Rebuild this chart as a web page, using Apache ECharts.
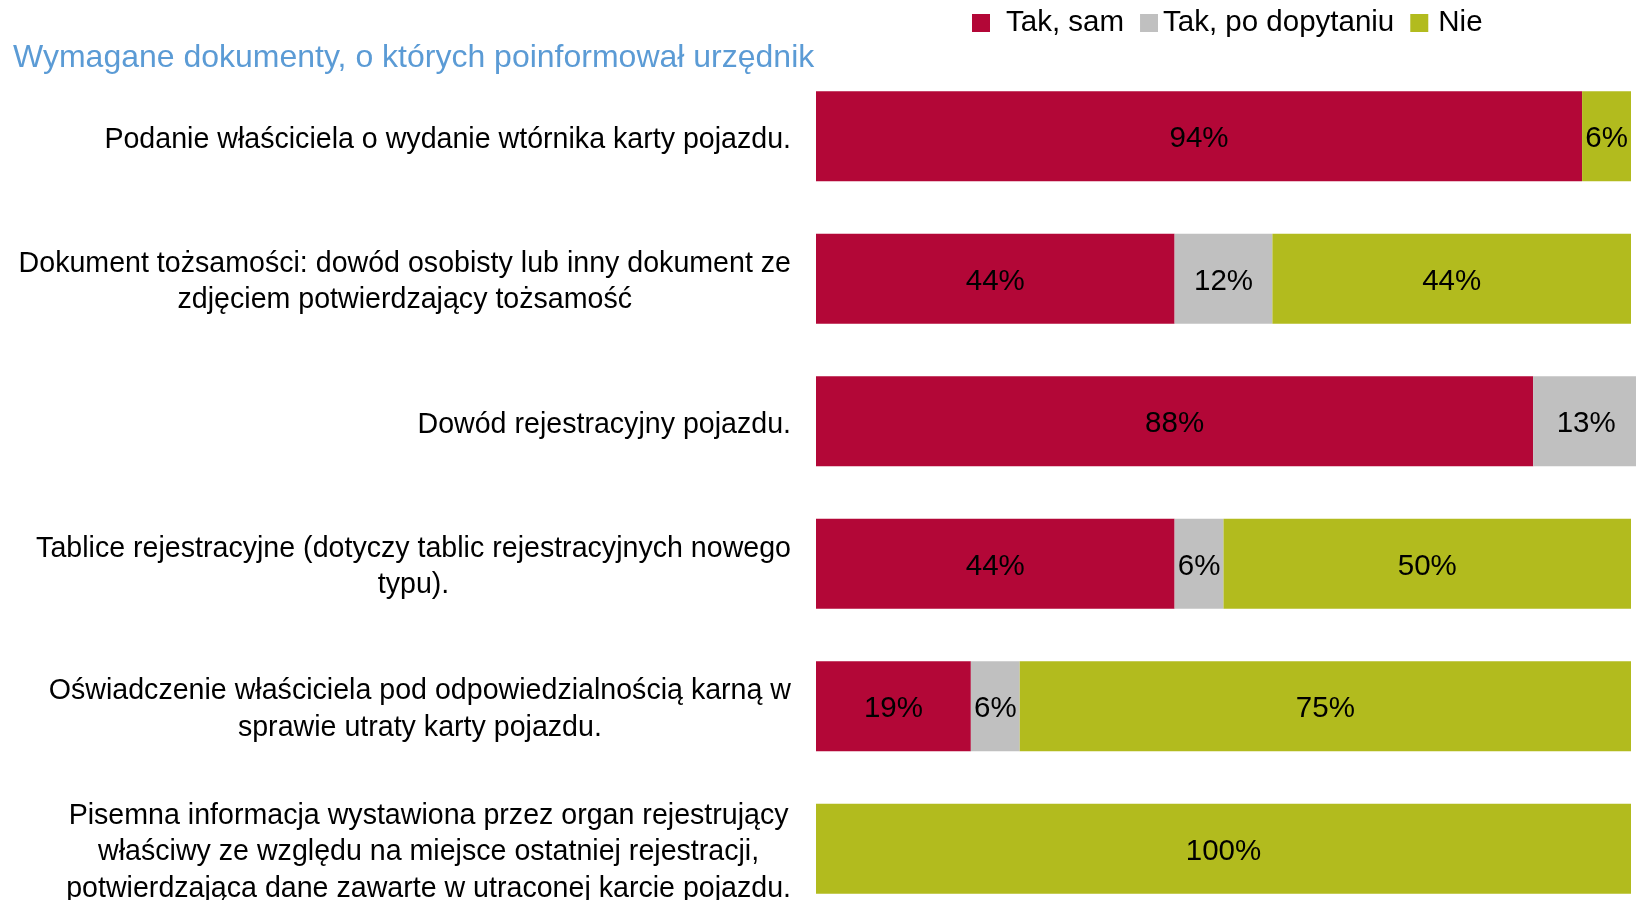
<!DOCTYPE html>
<html>
<head>
<meta charset="utf-8">
<script src="https://cdn.jsdelivr.net/npm/echarts@6/dist/echarts.min.js"></script>
<style>
  html, body { margin: 0; padding: 0; background: #fff; }
  #chart { width: 1636px; height: 900px; }
</style>
</head>
<body>
<div id="chart"></div>
<script>
// Wymagane dokumenty — stacked horizontal bars, share of answers (%)

const TITLE = 'Wymagane dokumenty, o których poinformował urzędnik';

const categories = [
  'Podanie właściciela o wydanie wtórnika karty pojazdu.',
  'Dokument tożsamości: dowód osobisty lub inny dokument ze\nzdjęciem potwierdzający tożsamość',
  'Dowód rejestracyjny pojazdu.',
  'Tablice rejestracyjne (dotyczy tablic rejestracyjnych nowego\ntypu).',
  'Oświadczenie właściciela pod odpowiedzialnością karną w\nsprawie utraty karty pojazdu.',
  'Pisemna informacja wystawiona przez organ rejestrujący\nwłaściwy ze względu na miejsce ostatniej rejestracji,\npotwierdzająca dane zawarte w utraconej karcie pojazdu.',
];

const seriesNames = ['Tak, sam', 'Tak, po dopytaniu', 'Nie'];

const takSam = [94, 44, 88, 44, 19, 0];
const takPoDopytaniu = [0, 12, 13, 6, 6, 0];
const nie = [6, 44, 0, 50, 75, 100];

const COLORS = ['#b30737', '#c0c0c0', '#b2bb1e'];
const FONT = "'Liberation Sans', Arial, sans-serif";

const chart = echarts.init(document.getElementById('chart'), null, { renderer: 'canvas' });

function barSeries(name, values, color) {
  return {
    name,
    type: 'bar',
    stack: 'total',
    clip: false,
    barCategoryGap: '37%',
    itemStyle: { color },
    label: {
      show: true,
      position: 'inside',
      offset: [0, 3],
      color: '#000',
      fontFamily: FONT,
      fontSize: 29.5,
      formatter: p => (p.value ? p.value + '%' : ''),
    },
    data: values,
  };
}

chart.setOption({
  backgroundColor: '#fff',
  animation: false,
  title: {
    text: TITLE,
    left: 8,
    top: 37,
    textStyle: { color: '#5b9bd5', fontFamily: FONT, fontSize: 32, fontWeight: 'normal' },
  },
  legend: {
    left: 967,
    top: 3,
    itemWidth: 18,
    itemHeight: 18,
    itemGap: 16,
    icon: 'rect',
    textStyle: { color: '#000', fontFamily: FONT, fontSize: 29.5 },
    data: [
      { name: seriesNames[0], textStyle: { padding: [0, 0, 0, 11] } },
      { name: seriesNames[1], textStyle: { padding: [0, 0, 0, 0] } },
      { name: seriesNames[2], textStyle: { padding: [0, 0, 0, 5] } },
    ],
  },
  grid: { left: 816, top: 65, width: 815, height: 855, outerBoundsMode: 'none' },
  xAxis: {
    type: 'value',
    min: 0,
    max: 100,
    show: false,
  },
  yAxis: {
    type: 'category',
    inverse: true,
    data: categories,
    axisLine: { show: false },
    axisTick: { show: false },
    axisLabel: {
      margin: 25,
      align: 'right',
      padding: [7, 0, 0, 0],
      formatter: v => v.split('\n').map(l => '{c|' + l + '}').join('\n'),
      rich: {
        c: { align: 'center', color: '#000', fontFamily: FONT, fontSize: 28.6, lineHeight: 36.5 },
      },
    },
  },
  series: [
    barSeries(seriesNames[0], takSam, COLORS[0]),
    barSeries(seriesNames[1], takPoDopytaniu, COLORS[1]),
    barSeries(seriesNames[2], nie, COLORS[2]),
  ],
});

window.addEventListener('resize', () => chart.resize());
</script>
</body>
</html>
